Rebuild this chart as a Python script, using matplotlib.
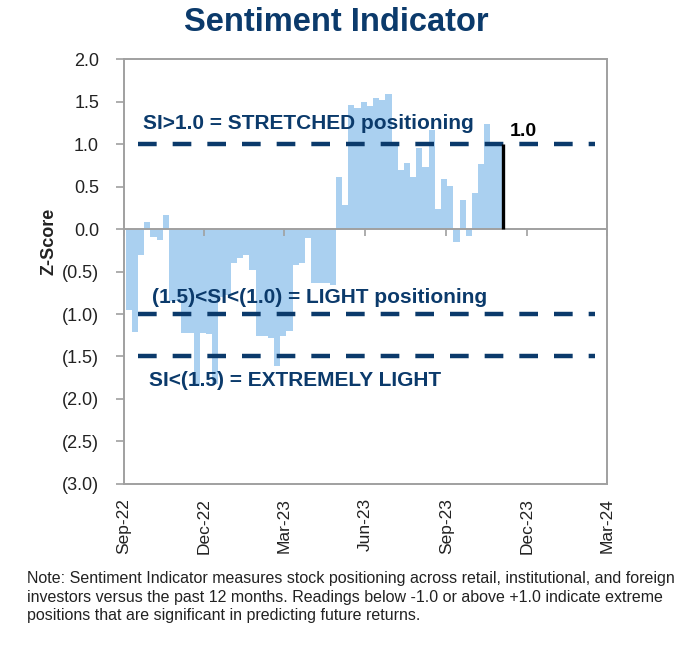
import numpy as np
import pandas as pd
import matplotlib
matplotlib.use("Agg")
import matplotlib.pyplot as plt
from matplotlib.ticker import FuncFormatter

plt.rcParams['font.family'] = ['Liberation Sans', 'DejaVu Sans']

# weekly sentiment indicator z-scores
start_date = "2022-09-03"
si_values = [-0.95, -1.21, -0.30, 0.08, -0.09, -0.13, 0.17, -0.85, -0.85, -1.22,
             -1.22, -1.85, -1.22, -1.24, -1.82, -0.80, -0.78, -0.40, -0.34, -0.30,
             -0.48, -1.26, -1.26, -1.28, -1.61, -1.26, -1.20, -0.42, -0.40, -0.11,
             -0.64, -0.64, -0.63, -0.66, 0.61, 0.28, 1.46, 1.42, 1.50, 1.45,
             1.54, 1.52, 1.59, 1.00, 0.69, 0.78, 0.61, 0.95, 0.73, 1.17,
             0.24, 0.59, 0.51, -0.15, 0.34, -0.08, 0.42, 0.77, 1.23, 1.02,
             1.00]
weeks = pd.date_range(start_date, periods=len(si_values), freq="7D")

# threshold lines and their labels
thresholds = [1.0, -1.0, -1.5]
threshold_labels = ["SI>1.0 = STRETCHED positioning",
                    "(1.5)<SI<(1.0) = LIGHT positioning",
                    "SI<(1.5) = EXTREMELY LIGHT"]
label_x = [0.040, 0.058, 0.052]
label_y = [1.24, -0.80, -1.78]

tick_dates = pd.date_range("2022-09-01", "2024-03-01", freq="3MS")
tick_labels = [d.strftime("%b-%y") for d in tick_dates]

navy = "#0b3a6b"
bar_blue = "#aad0f0"
grey = "#a0a0a0"

fig = plt.figure(figsize=(6.92, 6.5), dpi=100)
ax = fig.add_axes([0.1792, 0.2554, 0.698, 0.6538])

ax.bar(weeks, si_values, width=7, align="edge", color=bar_blue, linewidth=0, zorder=2)

# zero line with small quarterly ticks
ax.axhline(0, color=grey, linewidth=1.4, zorder=3)
ax.plot(tick_dates, np.zeros(len(tick_dates)), linestyle="none", marker=3,
        markersize=5, color=grey, markeredgewidth=1.2, zorder=3, clip_on=False)

# dashed threshold lines
for t, lab, lx, ly in zip(thresholds, threshold_labels, label_x, label_y):
    ax.axhline(t, xmin=0.029, xmax=0.975, color=navy, linewidth=3.2,
               dashes=(4.2, 3.6), dash_capstyle="butt", zorder=4)
    ax.text(lx, ly, lab, transform=ax.get_yaxis_transform(), fontsize=15,
            fontweight="bold", color=navy, va="center", ha="left", zorder=5)

# latest reading marker
last_x = weeks[-1] + pd.Timedelta(days=7)
ax.vlines(last_x, 0, si_values[-1], color="black", linewidth=2.4, zorder=5)
ax.text(last_x + pd.Timedelta(days=8), si_values[-1] + 0.15, f"{si_values[-1]:.1f}",
        fontsize=14, fontweight="bold", color="black", va="center", ha="left")

ax.set_xlim(pd.Timestamp("2022-09-01"), pd.Timestamp("2024-03-01"))
ax.set_ylim(-3.0, 2.0)
ax.set_yticks(np.arange(-3.0, 2.01, 0.5))
ax.yaxis.set_major_formatter(FuncFormatter(
    lambda v, p: f"({abs(v):.1f})" if v < -1e-9 else f"{v:.1f}"))
ax.set_xticks(tick_dates)
ax.set_xticklabels(tick_labels, rotation=90)
ax.tick_params(axis="x", length=0, pad=10, labelsize=12.5, colors="#222222")
ax.tick_params(axis="y", length=6, width=1.2, color=grey, pad=12,
               labelsize=13, labelcolor="#222222")

for s in ax.spines.values():
    s.set_color(grey)
    s.set_linewidth(1.4)

ax.set_ylabel("Z-Score", fontsize=13, fontweight="bold", color="#222222")
ax.yaxis.set_label_coords(-0.138, 0.57)

fig.text(0.486, 0.966, "Sentiment Indicator", fontsize=23.5, fontweight="bold",
         color=navy, ha="center", va="center")

note = ("Note: Sentiment Indicator measures stock positioning across retail, institutional, and foreign\n"
        "investors versus the past 12 months. Readings below -1.0 or above +1.0 indicate extreme\n"
        "positions that are significant in predicting future returns.")
fig.text(0.039, 0.081, note, fontsize=11.5, color="#222222",
         ha="left", va="center", linespacing=1.3)

fig.savefig("out.png", dpi=100)
